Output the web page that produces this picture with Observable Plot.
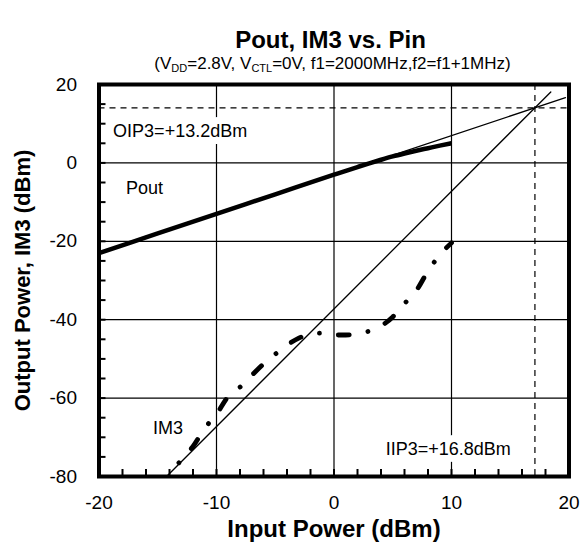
<!DOCTYPE html>
<html>
<head>
<meta charset="utf-8">
<script src="https://cdn.jsdelivr.net/npm/d3@7"></script>
<script src="https://cdn.jsdelivr.net/npm/@observablehq/plot@0.6"></script>
<style>
  body { margin: 0; background: #fff; font-family: "Liberation Sans", Arial, sans-serif; }
  #head { position: relative; width: 587px; height: 72px; }
  #title { position: absolute; left: 0; width: 587px; top: 26px; text-align: center; padding-left: 74px; box-sizing: border-box; font-weight: bold; font-size: 24px; line-height: 28px; }
  #sub { position: absolute; left: 0; width: 587px; top: 54px; text-align: center; padding-left: 78px; box-sizing: border-box; font-size: 17px; line-height: 19px; }
  #sub sub { font-size: 11px; vertical-align: -3px; line-height: 0; }
</style>
</head>
<body>
<div id="head">
  <div id="title">Pout, IM3 vs. Pin</div>
  <div id="sub">(V<sub>DD</sub>=2.8V, V<sub>CTL</sub>=0V, f1=2000MHz,f2=f1+1MHz)</div>
</div>
<div id="chart"></div>
<script>
// Measured output power (thick solid)
const poutX = [-20, -15, -10, -5, 0, 2, 3, 4, 5, 6, 7, 8, 9, 10];
const poutY = [-23.0, -18.0, -13.0, -8.0, -3.0, -1.05, -0.1, 0.8, 1.65, 2.4, 3.1, 3.75, 4.4, 5.0];
// Measured IM3 (thick dash-dot)
const im3X = [-13.2, -12, -11, -10, -9, -8, -7, -6, -5, -4, -3, -2, -1, 0, 1, 2, 3, 4, 5, 6, 7, 8, 9, 10];
const im3Y = [-76.5, -72.3, -67.7, -64.1, -59.6, -57.2, -54.2, -51.3, -48.8, -46.5, -44.7, -43.7, -43.4, -43.9, -43.9, -43.6, -42.9, -41.6, -39.3, -35.9, -32.6, -27.6, -23.5, -20.4];
// Linear extrapolations (thin)
const poutLinX = [-20, 19.7];
const poutLinY = [-23.05, 16.65];
const im3LinX = [-14.25, 18.45];
const im3LinY = [-80, 18.1];
// Intercept guide lines (dashed)
const oip3Level = [14.05];
const iip3Level = [17.1];
// Ticks
const xTicks = [-20, -10, 0, 10, 20];
const yTicks = [20, 0, -20, -40, -60, -80];
const xGrid = [-10, 0, 10];
const yGrid = [0, -20, -40, -60];
const xMinor = [-18, -16, -14, -12, -10, -8, -6, -4, -2, 0, 2, 4, 6, 8, 10, 12, 14, 16, 18];
const yMinor = [15, 10, 5, 0, -5, -10, -15, -20, -25, -30, -35, -40, -45, -50, -55, -60, -65, -70, -75];
// Annotations
const noteText = ["OIP3=+13.2dBm", "Pout", "IM3", "IIP3=+16.8dBm"];
const noteX = [-18.8, -17.7, -15.4, 4.4];
const noteY = [8.0, -6.5, -67.8, -73.1];

const toRows = (xs, ys) => xs.map((x, i) => ({x, y: ys[i]}));
const notes = noteText.map((t, i) => ({t, x: noteX[i], y: noteY[i]}));

const font = "'Liberation Sans', Arial, sans-serif";
const chart = Plot.plot({
  width: 587,
  height: 473,
  marginLeft: 98.5,
  marginRight: 18.5,
  marginTop: 12,
  marginBottom: 69,
  style: {fontFamily: font, background: "white", color: "black"},
  x: {domain: [-20, 20]},
  y: {domain: [-80, 20]},
  marks: [
    Plot.gridX(xGrid, {stroke: "black", strokeOpacity: 1, strokeWidth: 1.2}),
    Plot.gridY(yGrid, {stroke: "black", strokeOpacity: 1, strokeWidth: 1.2}),
    Plot.tickX(xMinor, {x: d => d, stroke: "black", strokeWidth: 2, insetTop: 385}),
    Plot.tickY(yMinor, {y: d => d, stroke: "black", strokeWidth: 2, insetRight: 463}),
    Plot.ruleY(oip3Level, {y: d => d, stroke: "black", strokeWidth: 1.2, strokeDasharray: "6,5"}),
    Plot.ruleX(iip3Level, {x: d => d, stroke: "black", strokeWidth: 1.2, strokeDasharray: "6,5"}),
    Plot.text(notes, {x: "x", y: "y", text: "t", textAnchor: "start", fontSize: 18, fill: "black", stroke: "white", strokeWidth: 14, paintOrder: "stroke", strokeLinejoin: "round"}),
    Plot.line(toRows(poutLinX, poutLinY), {x: "x", y: "y", stroke: "black", strokeWidth: 1.3}),
    Plot.line(toRows(im3LinX, im3LinY), {x: "x", y: "y", stroke: "black", strokeWidth: 1.3}),
    Plot.line(toRows(poutX, poutY), {x: "x", y: "y", stroke: "black", strokeWidth: 4.5, curve: "monotone-x", strokeLinecap: "butt"}),
    Plot.line(toRows(im3X, im3Y), {x: "x", y: "y", stroke: "black", strokeWidth: 4.8, curve: "monotone-x", strokeLinecap: "round", strokeDasharray: "0.01,19,11,19"}),
    Plot.frame({stroke: "black", strokeWidth: 4}),
    Plot.axisX(xTicks, {tickSize: 0, tickPadding: 19, fontSize: 19, tickFormat: d => String(d), label: null}),
    Plot.axisY(yTicks, {tickSize: 0, tickPadding: 22, fontSize: 19, tickFormat: d => String(d), label: null}),
    Plot.text(["Input Power (dBm)"], {frameAnchor: "bottom", dy: 53, fontSize: 24, fontWeight: "bold", textAnchor: "middle", lineAnchor: "middle", fill: "black"}),
    Plot.text(["Output Power, IM3 (dBm)"], {frameAnchor: "left", dx: -76, rotate: -90, fontSize: 22, fontWeight: "bold", textAnchor: "middle", lineAnchor: "middle", fill: "black"})
  ]
});
document.getElementById("chart").appendChild(chart);
</script>
</body>
</html>
